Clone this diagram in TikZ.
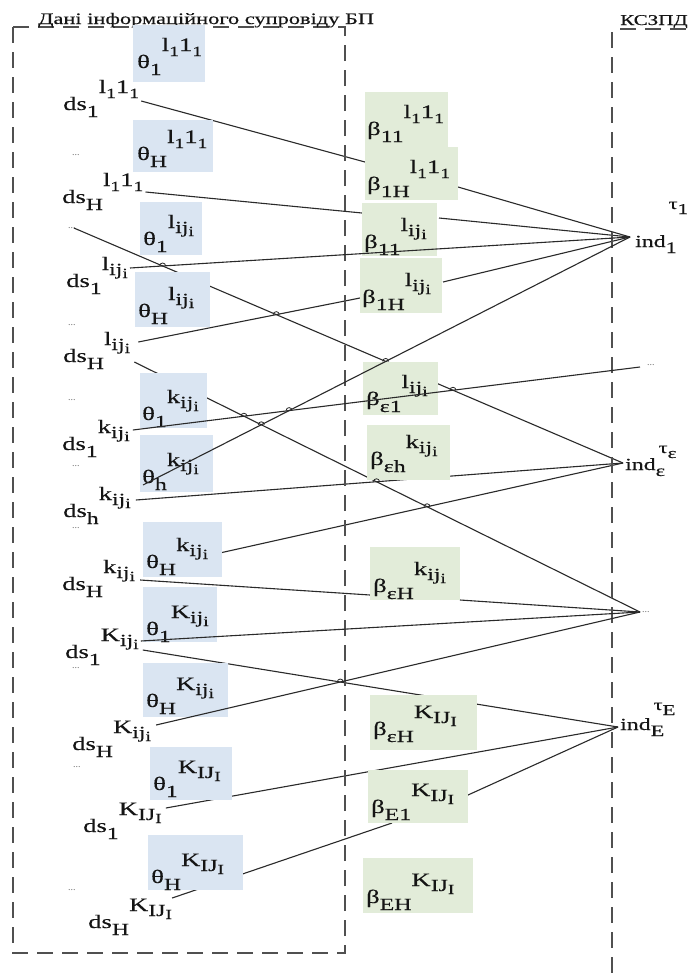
\documentclass[tikz,border=0pt]{standalone}
\usepackage{fontspec}
\setmainfont{Liberation Serif}
\newfontfamily\lf[FakeStretch=1.4,FakeBold=0.3]{Liberation Serif}
\usetikzlibrary{calc,intersections}
\pgfdeclarelayer{bg}
\pgfsetlayers{bg,main}
\definecolor{boxblue}{HTML}{DAE5F2}
\definecolor{boxgreen}{HTML}{E2ECD9}
\definecolor{ink}{HTML}{151515}
\definecolor{wire}{HTML}{2A2A2A}
\definecolor{frameink}{HTML}{505050}
\definecolor{dotink}{HTML}{777777}

\newcommand\fs[1]{\fontsize{#1}{#1}\selectfont}
% index with a two-level subscript, e.g. l_{ij_i}
\newcommand\idx[3]{#1\raisebox{-5pt}{\fs{17}#2\raisebox{-3pt}{\fs{14}#3}}}
\newcommand\lone{l\raisebox{-5pt}{\fs{14}1}1\raisebox{-5pt}{\fs{14}1}}
% base symbol with subscript followed by a superscript
\newcommand\lab[3]{{\lf\fs{19}#1\raisebox{-7pt}{\fs{17}#2}\raisebox{17pt}{#3}}}
% indicator label ind_x^{tau_x}
\newcommand\indlab[3]{{\lf\fs{17}ind\rlap{\raisebox{-6pt}{\fs{16}#1}}\hspace{3pt}\raisebox{#3}{\fs{16}τ\raisebox{-5pt}{\fs{15}#2}}}}
\newcommand\panel[6]{\node[#1, minimum width=#5pt, minimum height=#6pt] (#2) at (#3,#4) {};}
\newcommand\hop[1]{\draw[wirestyle, line width=0.8pt] ($(#1)+(-3,0)$) arc[start angle=180, end angle=360, radius=3];}

\begin{document}
\begin{tikzpicture}[x=1pt, y=-1pt,
  lbl/.style={inner sep=0pt, anchor=base west, text=ink},
  bluebox/.style={fill=boxblue, inner sep=0pt, outer sep=0pt, anchor=north west},
  greenbox/.style={fill=boxgreen, inner sep=0pt, outer sep=0pt, anchor=north west},
  wirestyle/.style={draw=wire, line width=1.1pt},
  frame/.style={draw=frameink, line width=1.4pt, dash pattern=on 16pt off 9pt},
  dotlab/.style={inner sep=0pt, anchor=base west, text=dotink, font=\fs{10}}]
\begin{pgfonlayer}{bg}
\fill[white] (0,0) rectangle (692,975);
\end{pgfonlayer}
\useasboundingbox (0,0) rectangle (692,975);

% frames and titles
\draw[frame] (13,27) rectangle (345,953);
\draw[frame] (612,32) -- (612,975);
\draw[frame] (620,29) -- (686,29);
\node[lbl, font=\lf\fs{16}] (T1) at (38,24) {Дані інформаційного супровіду БП};
\node[lbl, font=\lf\fs{15}] (T2) at (620,25) {КСЗПД};

% theta boxes
\panel{bluebox}{B1}{133}{25}{72}{57}
\panel{bluebox}{B2}{133}{120}{80}{52}
\panel{bluebox}{B3}{140}{202}{62}{53}
\panel{bluebox}{B4}{135}{272}{75}{55}
\panel{bluebox}{B5}{140}{373}{67}{55}
\panel{bluebox}{B6}{140}{435}{73}{57}
\panel{bluebox}{B7}{143}{522}{79}{55}
\panel{bluebox}{B8}{143}{587}{74}{55}
\panel{bluebox}{B9}{143}{663}{85}{54}
\panel{bluebox}{B10}{150}{747}{82}{53}
\panel{bluebox}{B11}{148}{835}{95}{55}

% beta boxes
\panel{greenbox}{G1}{365}{92}{83}{55}
\panel{greenbox}{G2}{365}{147}{93}{53}
\panel{greenbox}{G3}{362}{203}{75}{53}
\panel{greenbox}{G4}{360}{258}{82}{55}
\panel{greenbox}{G5}{363}{362}{75}{53}
\panel{greenbox}{G6}{367}{425}{83}{55}
\panel{greenbox}{G7}{370}{547}{90}{53}
\panel{greenbox}{G8}{370}{695}{107}{55}
\panel{greenbox}{G9}{368}{770}{100}{53}
\panel{greenbox}{G10}{363}{858}{110}{55}

% theta labels
\node[lbl] (B1t) at ($(B1.south west)+(4,-14)$) {\lab{θ}{1}{\lone}};
\node[lbl] (B2t) at ($(B2.south west)+(4,-12)$) {\lab{θ}{H}{\lone}};
\node[lbl] (B3t) at ($(B3.south west)+(3,-10)$) {\lab{θ}{1}{\idx{l}{ij}{i}}};
\node[lbl] (B4t) at ($(B4.south west)+(3,-10)$) {\lab{θ}{H}{\idx{l}{ij}{i}}};
\node[lbl] (B5t) at ($(B5.south west)+(2,-8)$) {\lab{θ}{1}{\idx{k}{ij}{i}}};
\node[lbl] (B6t) at ($(B6.south west)+(2,-9)$) {\lab{θ}{h}{\idx{k}{ij}{i}}};
\node[lbl] (B7t) at ($(B7.south west)+(3,-9)$) {\lab{θ}{H}{\idx{k}{ij}{i}}};
\node[lbl] (B8t) at ($(B8.south west)+(3,-7)$) {\lab{θ}{1}{\idx{K}{ij}{i}}};
\node[lbl] (B9t) at ($(B9.south west)+(3,-10)$) {\lab{θ}{H}{\idx{K}{ij}{i}}};
\node[lbl] (B10t) at ($(B10.south west)+(3,-10)$) {\lab{θ}{1}{\idx{K}{IJ}{I}}};
\node[lbl] (B11t) at ($(B11.south west)+(3,-7)$) {\lab{θ}{H}{\idx{K}{IJ}{I}}};

% beta labels
\node[lbl] (G1t) at ($(G1.south west)+(2,-12)$) {\lab{β}{11}{\lone}};
\node[lbl] (G2t) at ($(G2.south west)+(2,-10)$) {\lab{β}{1H}{\lone}};
\node[lbl] (G3t) at ($(G3.south west)+(2,-8)$) {\lab{β}{11}{\idx{l}{ij}{i}}};
\node[lbl] (G4t) at ($(G4.south west)+(2,-10)$) {\lab{β}{1H}{\idx{l}{ij}{i}}};
\node[lbl] (G5t) at ($(G5.south west)+(3,-10)$) {\lab{β}{ε1}{\idx{l}{ij}{i}}};
\node[lbl] (G6t) at ($(G6.south west)+(3,-15)$) {\lab{β}{εh}{\idx{k}{ij}{i}}};
\node[lbl] (G7t) at ($(G7.south west)+(3,-8)$) {\lab{β}{εH}{\idx{k}{ij}{i}}};
\node[lbl] (G8t) at ($(G8.south west)+(3,-15)$) {\lab{β}{εH}{\idx{K}{IJ}{I}}};
\node[lbl] (G9t) at ($(G9.south west)+(3,-10)$) {\lab{β}{E1}{\idx{K}{IJ}{I}}};
\node[lbl] (G10t) at ($(G10.south west)+(3,-10)$) {\lab{β}{EH}{\idx{K}{IJ}{I}}};

% data-support labels
\node[lbl] (L1) at (63,110) {\lab{ds}{1}{\lone}};
\node[lbl] (L2) at (62,203) {\lab{ds}{H}{\lone}};
\node[lbl] (L3) at (66,287) {\lab{ds}{1}{\idx{l}{ij}{i}}};
\node[lbl] (L4) at (63,362) {\lab{ds}{H}{\idx{l}{ij}{i}}};
\node[lbl] (L5) at (62,450) {\lab{ds}{1}{\idx{k}{ij}{i}}};
\node[lbl] (L6) at (63,517) {\lab{ds}{h}{\idx{k}{ij}{i}}};
\node[lbl] (L7) at (62,590) {\lab{ds}{H}{\idx{k}{ij}{i}}};
\node[lbl] (L8) at (65,658) {\lab{ds}{1}{\idx{K}{ij}{i}}};
\node[lbl] (L9) at (72,750) {\lab{ds}{H}{\idx{K}{ij}{i}}};
\node[lbl] (L10) at (83,832) {\lab{ds}{1}{\idx{K}{IJ}{I}}};
\node[lbl] (L11) at (88,928) {\lab{ds}{H}{\idx{K}{IJ}{I}}};

% ellipses in the left column
\node[dotlab] (D1) at (72,155) {...};
\node[dotlab] (D2) at (68,228) {...};
\node[dotlab] (D3) at (68,325) {...};
\node[dotlab] (D4) at (68,400) {...};
\node[dotlab] (D5) at (72,466) {...};
\node[dotlab] (D6) at (72,528) {...};
\node[dotlab] (D7) at (72,668) {...};
\node[dotlab] (D8) at (73,767) {...};
\node[dotlab] (D9) at (68,890) {...};

% indicators
\node[lbl] (I1) at (635,247) {\indlab{1}{1}{38pt}};
\node[lbl] (Ie) at (625,470) {\indlab{ε}{ε}{17pt}};
\node[lbl] (IE) at (620,730) {\indlab{E}{E}{20pt}};
\node[dotlab] (R2) at (647,365) {...};
\node[dotlab] (R4) at (642,612) {...};
\coordinate (c1) at ($(I1.base west)+(-5,-10)$);
\coordinate (ce) at ($(Ie.base west)+(-2,-7)$);
\coordinate (cE) at ($(IE.base west)+(-2,-3)$);
\coordinate (c2) at ($(R2.base west)+(-7,2)$);
\coordinate (c4) at ($(R4.base west)+(-2,0)$);

% connectors running behind the boxes
\begin{pgfonlayer}{bg}
\draw[wirestyle] ($(L1.base east)+(2,-9)$) -- ($(G2.north west)+(0,15)$);
\draw[wirestyle] ($(L2.base east)+(2,-11)$) -- ($(G3.north west)+(0,10)$);
\draw[wirestyle, name path=k3] ($(D2.base east)+(-2,0)$) -- (ce);
\draw[wirestyle, name path=k5] ($(L4.base east)+(8,-20)$) -- ($(G4.north west)+(0,40)$);
\draw[wirestyle, name path=k6] ($(L4.base east)+(4,0)$) -- (c4);
\draw[wirestyle, name path=k9] ($(L6.base east)+(5,-17)$) -- (ce);
\draw[wirestyle, name path=k10] ($(B7.east)+(0,3)$) -- (ce);
\draw[wirestyle] ($(L7.base east)+(5,-10)$) -- ($(G7.north west)+(0,48)$);
\draw[wirestyle] ($(G2.north east)+(0,40)$) -- (c1);
\draw[wirestyle] ($(G3.north east)+(2,15)$) -- (c1);
\draw[wirestyle] ($(G4.north east)+(1,24)$) -- (c1);
\draw[wirestyle] (G7.south east) -- (c4);
\draw[wirestyle, name path=k17] ($(L8.base east)+(4,-8)$) -- (cE);
\draw[wirestyle] ($(L10.base east)+(4,-24)$) -- (cE);
\draw[wirestyle] ($(G9.north east)+(0,25)$) -- (cE);
\draw[wirestyle] ($(L11.base east)+(0,-30)$) -- ($(G9.south west)+(24,0)$);
\end{pgfonlayer}

% connectors drawn over the boxes
\draw[wirestyle, name path=k4] ($(L3.base east)+(2,-19)$) -- (c1);
\draw[wirestyle, name path=k7] ($(B6.south west)+(3,-7)$) -- (c1);
\draw[wirestyle, name path=k8] ($(L5.base east)+(3,-20)$) -- (c2);
\draw[wirestyle] ($(L8.base east)+(2,-17)$) -- (c4);
\draw[wirestyle, name path=k18] ($(L9.base east)+(5,-25)$) -- (c4);

% line jumps at crossings
\path[name intersections={of=k3 and k4, by=h1}];
\path[name intersections={of=k3 and k5, by=h2}];
\path[name intersections={of=k6 and k8, by=h3}];
\path[name intersections={of=k6 and k7, by=h4}];
\path[name intersections={of=k7 and k8, by=h5}];
\path[name intersections={of=k7 and k3, by=h6}];
\path[name intersections={of=k8 and k3, by=h7}];
\path[name intersections={of=k6 and k9, by=h8}];
\path[name intersections={of=k6 and k10, by=h9}];
\path[name intersections={of=k18 and k17, by=h10}];
\foreach \h in {h1,h2,h3,h4,h5,h6,h7,h8,h9,h10} {\hop{\h}}
\end{tikzpicture}
\end{document}
